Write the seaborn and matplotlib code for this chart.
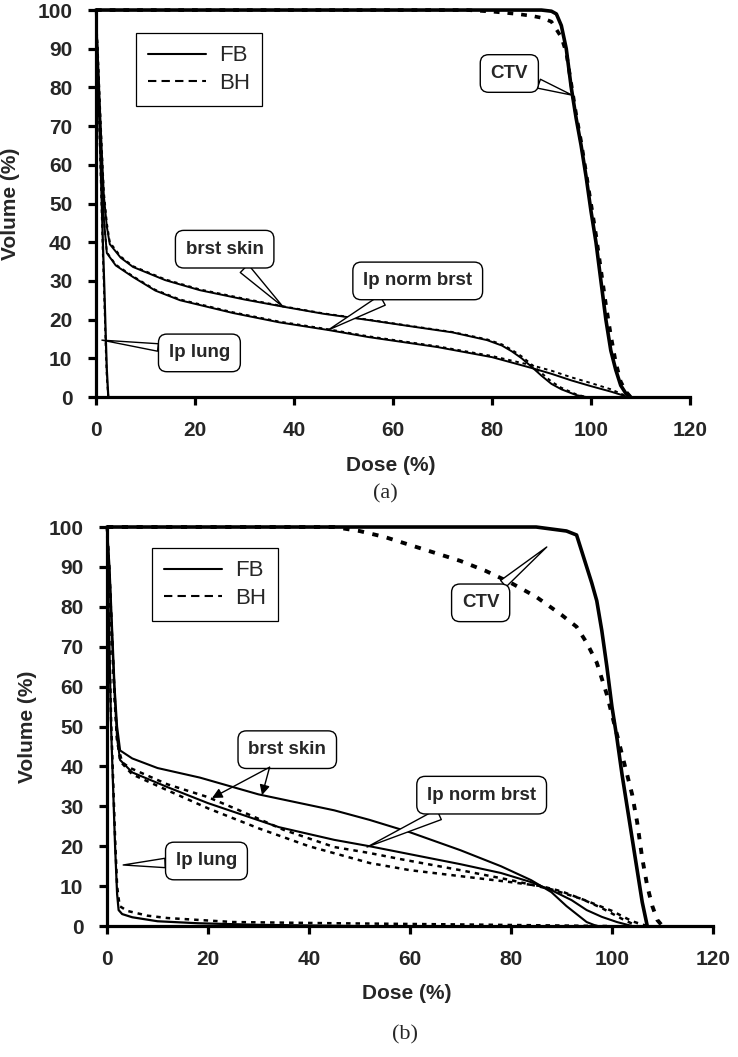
import matplotlib
matplotlib.use("Agg")
import matplotlib.pyplot as plt
import seaborn as sns
from matplotlib.lines import Line2D

# ---------------- panel (a) ----------------
a_ctv_fb_dose = [0, 90, 92, 93, 94, 95, 96, 97, 98, 99, 100, 101, 102, 103, 104, 105, 106, 107, 108]
a_ctv_fb_vol = [100, 100, 99.7, 99, 96, 90, 80, 72, 65, 57, 48, 40, 30, 20, 12, 7, 3, 1, 0]
a_ctv_bh_dose = [0, 75, 80, 85, 88, 90, 92, 94, 95, 96, 97, 98, 99, 100, 101, 102, 103, 104, 105, 106, 107, 108]
a_ctv_bh_vol = [100, 100, 99.6, 99, 98.5, 98, 97, 93, 89, 81, 73, 66, 58, 50, 42, 33, 24, 16, 9, 4, 1.5, 0]

a_skin_dose = [0, 0.4, 0.8, 1.2, 1.6, 2.2, 2.8, 5, 7.5, 14, 21, 30, 38, 46, 55, 65, 72, 79, 82, 84, 86, 88, 90, 92, 94, 97, 99]
a_skin_fb_vol = [100, 88, 75, 63, 52, 44, 39.5, 36, 33.6, 30.2, 27.6, 25.2, 23.3, 21.5, 19.9, 18, 16.7, 14.7, 13.3, 11.8, 10, 7.8, 5.5, 3.4, 2, 0.5, 0]
a_skin_bh_vol = [100, 89, 76, 64, 53, 45, 40, 36.3, 33.8, 30.4, 27.8, 25.4, 23.4, 21.6, 20, 18.1, 16.8, 14.9, 13.6, 12.2, 10.5, 8.4, 6.2, 4, 2.4, 0.7, 0]

a_norm_dose = [0, 0.4, 0.8, 1.2, 1.6, 2.2, 4, 7.5, 12, 17, 27.7, 37, 47, 55, 69, 80, 88, 92, 96, 100, 104, 106, 107.5]
a_norm_fb_vol = [100, 86, 72, 58, 46, 37.2, 34, 31, 27.5, 25, 21.7, 19.3, 17.3, 15.5, 12.9, 10.3, 7.5, 6, 4.3, 2.8, 1.4, 0.6, 0]
a_norm_bh_vol = [100, 86, 72, 58, 46, 37.4, 34.2, 31.2, 27.7, 25.2, 21.9, 19.5, 17.5, 15.7, 13.1, 10.6, 8.2, 6.8, 5.1, 3.6, 2, 0.9, 0]

a_lung_dose = [0, 0.2, 0.6, 1.0, 1.4, 1.7, 2.0, 2.2, 2.5]
a_lung_fb_vol = [100, 91, 75, 58, 40, 28, 15, 7, 0]
a_lung_bh_vol = [100, 90, 73, 55, 37, 25, 12, 5, 0]

# ---------------- panel (b) ----------------
b_ctv_fb_dose = [0, 85, 88, 91, 93, 94, 95, 96, 97, 98, 99, 100, 101, 102, 103, 104, 105, 106, 107]
b_ctv_fb_vol = [100, 100, 99.5, 99, 98, 94, 90, 86, 81.5, 74, 65, 55, 47, 38, 30, 22, 14, 6, 0]
b_ctv_bh_dose = [0, 45, 50, 55, 60, 65, 70, 75, 80, 85, 90, 93, 95, 97, 99, 101, 103, 104, 105, 106, 107, 108, 109, 110]
b_ctv_bh_vol = [100, 100, 99, 97.5, 95.5, 93.5, 91.5, 89, 86, 82.5, 78, 75, 71, 66, 58, 48, 38, 33, 26, 17, 10, 5, 1.5, 0]

b_skin_fb_dose = [0, 0.5, 1, 1.5, 2, 2.6, 5, 10, 18.4, 30, 45, 52, 60, 70, 78, 84, 88, 91, 93, 95, 97]
b_skin_fb_vol = [100, 90, 75, 60, 50, 44, 42, 39.6, 37.2, 33, 29, 26.6, 23.5, 19, 15, 11.5, 8.5, 5, 3, 1, 0]
b_skin_bh_dose = [0, 0.5, 1, 1.5, 2, 3, 4.6, 12, 20, 26, 35, 45, 52, 58, 70, 80, 88, 94, 98, 102, 105]
b_skin_bh_vol = [100, 88, 72, 57, 46, 41, 39.6, 35.5, 32.3, 29.1, 24.1, 19.8, 18.3, 16.8, 14, 11.5, 9.2, 6.8, 4.5, 1.8, 0]

b_norm_fb_dose = [0, 0.5, 1, 1.5, 2, 2.6, 5, 12, 20, 34, 45, 52, 60, 70, 78, 84, 88, 92, 95, 98, 101, 104]
b_norm_fb_vol = [100, 88, 72, 58, 47, 41.6, 38.5, 34.8, 30.8, 24.8, 21.6, 20, 18, 15.5, 13.3, 11, 9, 6.5, 4, 2.3, 1, 0]
b_norm_bh_dose = [0, 0.5, 1, 1.5, 2, 2.6, 5, 12, 20, 30, 40, 52, 60, 70, 80, 86, 90, 95, 100, 104, 107]
b_norm_bh_vol = [100, 88, 72, 58, 47, 41.3, 38, 34, 29.5, 24.5, 20, 15.8, 14, 12.5, 11, 10, 8.7, 6.3, 3.8, 1.2, 0]

b_lung_fb_dose = [0, 0.4, 0.8, 1.2, 1.6, 2.0, 2.3, 3, 5, 10, 18, 30, 50]
b_lung_fb_vol = [100, 75, 50, 35, 20, 8, 4, 3, 2.2, 1.2, 0.7, 0.3, 0]
b_lung_bh_dose = [0, 0.4, 0.8, 1.2, 1.6, 2.0, 2.5, 4, 8, 12, 25, 45, 70, 100]
b_lung_bh_vol = [100, 76, 52, 37, 22, 10, 5, 3.8, 2.6, 2, 1, 0.7, 0.4, 0]

x_ticks = [0, 20, 40, 60, 80, 100, 120]
y_ticks = [0, 10, 20, 30, 40, 50, 60, 70, 80, 90, 100]

sns.set_theme(style="ticks")
plt.rcParams["font.family"] = ["Liberation Sans", "DejaVu Sans"]

FB_STYLE = "-"
BH_THICK = (0, (1.6, 2.2))
BH_THIN = (0, (1.8, 2.0))
BOX = dict(boxstyle="round,pad=0.55,rounding_size=0.45", fc="white", ec="black", lw=1.0)


def curve(ax, x, y, lw, ls):
    sns.lineplot(x=x, y=y, ax=ax, color="black", lw=lw, linestyle=ls,
                 sort=False, estimator=None, legend=False, clip_on=False)


def callout(ax, text, box, tip, tail=0.6):
    ax.annotate(text, xy=tip, xytext=box, ha="center", va="center",
                fontsize=13.5, fontweight="bold", zorder=6, bbox=BOX,
                arrowprops=dict(arrowstyle=f"wedge,tail_width={tail},shrink_factor=0.5",
                                fc="white", ec="black", lw=1.0,
                                shrinkA=0, shrinkB=0))


def style_axes(ax, label_x, label_y, ylab_x):
    ax.set_xlim(0, 120)
    ax.set_ylim(0, 100)
    ax.set_xticks(x_ticks)
    ax.set_yticks(y_ticks)
    sns.despine(ax=ax)
    for s in ["left", "bottom"]:
        ax.spines[s].set_linewidth(2.3)
        ax.spines[s].set_color("black")
    ax.tick_params(direction="out", length=6, width=2.3, color="black",
                   labelsize=15, pad=11)
    for lab in ax.get_xticklabels() + ax.get_yticklabels():
        lab.set_fontweight("bold")
    ax.set_xlabel("Dose (%)", fontsize=15, fontweight="bold", va="center")
    ax.set_ylabel("Volume (%)", fontsize=15, fontweight="bold", va="center")
    ax.xaxis.set_label_coords(label_x, label_y)
    ax.yaxis.set_label_coords(ylab_x, 0.5)
    handles = [Line2D([], [], color="black", lw=1.5, ls="-"),
               Line2D([], [], color="black", lw=1.5, ls=(0, (4, 2.5)))]
    return handles


def add_legend(ax, handles, anchor):
    leg = ax.legend(handles, ["FB", "BH"], loc="upper left", bbox_to_anchor=anchor,
                    borderaxespad=0, fancybox=False, edgecolor="black", framealpha=1,
                    fontsize=16, handlelength=2.6, handletextpad=0.6, borderpad=0.55,
                    labelspacing=0.3)
    leg.get_frame().set_linewidth(0.9)


fig = plt.figure(figsize=(7.38, 10.57), dpi=100)
ax1 = fig.add_axes([0.130, 0.6244, 0.805, 0.3661])
ax2 = fig.add_axes([0.145, 0.1239, 0.821, 0.3775])

# ---- (a)
curve(ax1, a_ctv_bh_dose, a_ctv_bh_vol, 2.6, BH_THICK)
curve(ax1, a_ctv_fb_dose, a_ctv_fb_vol, 2.6, FB_STYLE)
curve(ax1, a_skin_dose, a_skin_bh_vol, 1.4, BH_THIN)
curve(ax1, a_skin_dose, a_skin_fb_vol, 1.4, FB_STYLE)
curve(ax1, a_norm_dose, a_norm_bh_vol, 1.4, BH_THIN)
curve(ax1, a_norm_dose, a_norm_fb_vol, 1.4, FB_STYLE)
curve(ax1, a_lung_dose, a_lung_bh_vol, 1.4, BH_THIN)
curve(ax1, a_lung_dose, a_lung_fb_vol, 1.6, FB_STYLE)

h = style_axes(ax1, 0.497, -0.176, -0.143)
add_legend(ax1, h, (0.067, 0.94))

callout(ax1, "CTV", (83.5, 83.6), (96.2, 78), tail=0.5)
callout(ax1, "brst skin", (26, 38.2), (37.8, 23.3))
callout(ax1, "lp norm brst", (65, 30), (46.9, 17.3))
callout(ax1, "lp lung", (20.9, 11.4), (1.2, 14.7), tail=0.4)

# ---- (b)
curve(ax2, b_ctv_bh_dose, b_ctv_bh_vol, 2.8, BH_THICK)
curve(ax2, b_ctv_fb_dose, b_ctv_fb_vol, 2.6, FB_STYLE)
curve(ax2, b_skin_bh_dose, b_skin_bh_vol, 1.8, BH_THIN)
curve(ax2, b_skin_fb_dose, b_skin_fb_vol, 1.5, FB_STYLE)
curve(ax2, b_norm_bh_dose, b_norm_bh_vol, 1.8, BH_THIN)
curve(ax2, b_norm_fb_dose, b_norm_fb_vol, 1.5, FB_STYLE)
curve(ax2, b_lung_bh_dose, b_lung_bh_vol, 1.8, BH_THIN)
curve(ax2, b_lung_fb_dose, b_lung_fb_vol, 1.6, FB_STYLE)

h = style_axes(ax2, 0.495, -0.168, -0.132)
add_legend(ax2, h, (0.074, 0.947))

callout(ax2, "CTV", (74, 81), (87.1, 95), tail=0.45)
callout(ax2, "lp norm brst", (74.2, 32.8), (51.5, 19.8))
callout(ax2, "lp lung", (19.7, 16.3), (3.2, 15.3), tail=0.5)
ax2.text(35.7, 44.2, "brst skin", ha="center", va="center", fontsize=13.5,
         fontweight="bold", zorder=6, bbox=BOX)
for tip in [(20.8, 32.1), (30.7, 32.8)]:
    ax2.annotate("", xy=tip, xytext=(32.2, 39.8), zorder=6,
                 arrowprops=dict(arrowstyle="-|>,head_length=0.5,head_width=0.25",
                                 color="black", lw=1.0, shrinkA=0, shrinkB=0))

fig.text(385 / 738, 1 - 494 / 1057, "(a)", ha="center", va="center",
         fontsize=16, family=["Liberation Serif", "DejaVu Serif"])
fig.text(405 / 738, 1 - 1035 / 1057, "(b)", ha="center", va="center",
         fontsize=16, family=["Liberation Serif", "DejaVu Serif"])

fig.savefig("out.png", dpi=100)
